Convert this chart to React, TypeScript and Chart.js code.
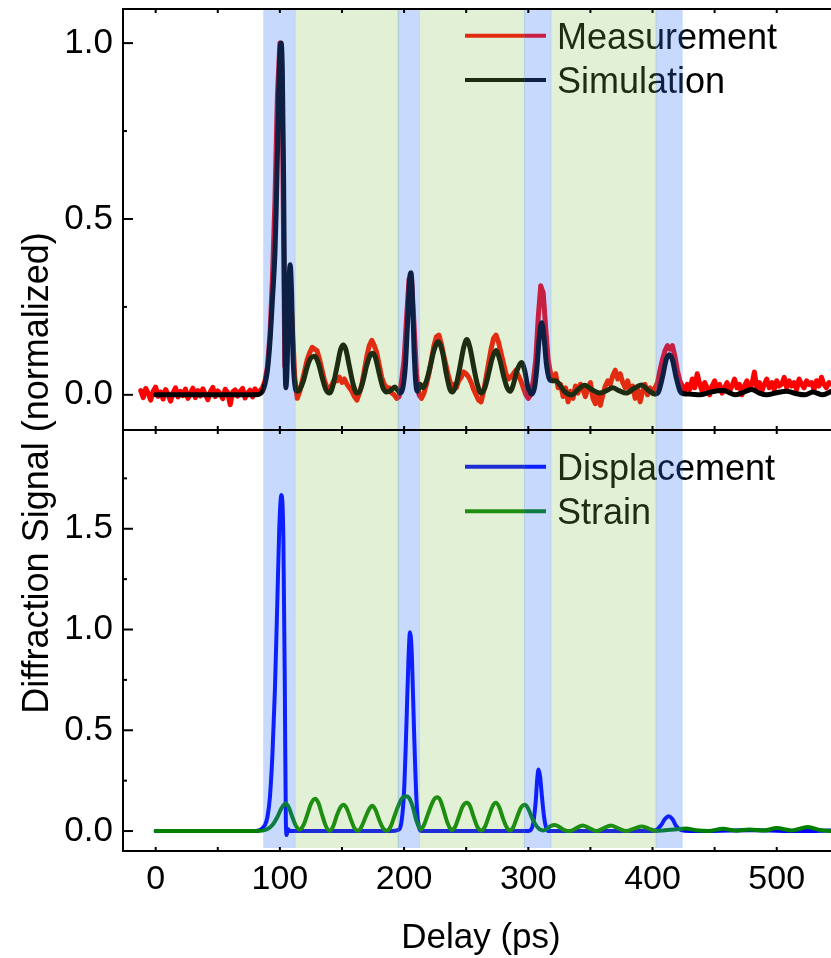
import React, { useEffect, useRef } from 'react';
import { Chart, registerables } from 'chart.js';

Chart.register(...registerables);

const FONT = '"Liberation Sans", Arial, Helvetica, sans-serif';

// ---- axes ----
const X_MIN = -26.3;
const X_MAX = 543.7;
const X_TICKS = [0, 100, 200, 300, 400, 500];
const X_MINOR_STEP = 50;
const TOP_MIN = -0.1;
const TOP_MAX = 1.097;
const TOP_TICKS = [0, 0.5, 1.0];
const BOT_MIN = -0.099;
const BOT_MAX = 1.99;
const BOT_TICKS = [0, 0.5, 1.0, 1.5];
const Y_MINOR_STEP = 0.25;

const X_TITLE = 'Delay (ps)';
const Y_TITLE = 'Diffraction Signal (normalized)';
const TOP_LABELS = ['Measurement', 'Simulation'];
const BOT_LABELS = ['Displacement', 'Strain'];

// ---- shaded delay windows (ps) ----
const BLUE_BANDS = [[86.6, 112.5], [194.8, 212.5], [296.5, 318.5], [402.5, 424.3]];
const GREEN_BANDS = [[112, 196], [212, 297.3], [318, 403.3]];

// ---- measurement (sampled every 2 ps from -12 ps) ----
const MEAS_START = -12;
const MEAS_STEP = 2;
const measY = [
  0.012, -0.008, 0.018, 0.004, -0.015, 0.010, 0.022, -0.004, 0.008, -0.012,
  0.015, 0.002, -0.018, 0.006, 0.020, -0.006, 0.010, -0.002, 0.016, -0.010,
  0.004, 0.019, -0.008, 0.012, -0.003, 0.017, 0.001, -0.014, 0.009, 0.021,
  -0.005, 0.011, 0.003, -0.011, 0.016, 0.006, -0.028, 0.008, 0.014, -0.004,
  0.010, 0.018, -0.009, 0.005, 0.013, -0.006, 0.017, 0.003, 0.012, 0.020,
  0.04, 0.08, 0.17, 0.33, 0.55, 0.85, 1.0, 0.8, 0.08, 0.15,
  0.33, 0.2, 0.05, -0.01, 0.01, 0.04, 0.07, 0.10, 0.12, 0.135,
  0.13, 0.125, 0.10, 0.07, 0.04, 0.02, 0.015, 0.03, 0.045, 0.04,
  0.05, 0.035, 0.045, 0.03, 0.02, 0.01, -0.005, -0.015, 0.005, 0.03,
  0.07, 0.11, 0.14, 0.155, 0.14, 0.12, 0.085, 0.05, 0.03, 0.02,
  0.02, 0.005, 0.0, -0.01, -0.005, 0.04, 0.10, 0.22, 0.33, 0.33,
  0.20, 0.06, 0.0, -0.01, 0.005, 0.03, 0.06, 0.10, 0.14, 0.165,
  0.17, 0.145, 0.11, 0.08, 0.05, 0.025, 0.03, 0.02, 0.04, 0.05,
  0.065, 0.06, 0.05, 0.035, 0.015, 0.0, -0.015, -0.02, 0.01, 0.05,
  0.09, 0.13, 0.16, 0.17, 0.15, 0.12, 0.09, 0.06, 0.045, 0.05,
  0.06, 0.07, 0.055, 0.04, 0.02, 0.0, -0.01, 0.0, 0.04, 0.10,
  0.22, 0.31, 0.29, 0.19, 0.10, 0.06, 0.04, 0.06, 0.02, 0.03,
  -0.005, 0.02, -0.02, 0.01, -0.01, 0.025, 0.005, 0.03, 0.015, -0.005,
  0.02, 0.035, -0.01, -0.025, 0.005, -0.03, 0.0, 0.025, 0.04, 0.03,
  0.055, 0.07, 0.045, 0.06, 0.035, 0.02, 0.04, 0.01, 0.025, -0.01,
  0.015, -0.02, 0.01, 0.03, 0.0, 0.02, 0.005, 0.02, 0.035, 0.07,
  0.10, 0.125, 0.14, 0.13, 0.14, 0.11, 0.07, 0.04, 0.025, 0.01,
  0.03, 0.015, 0.045, 0.02, 0.06, 0.03, 0.01, 0.035, 0.02, 0.0,
  0.025, 0.04, 0.015, 0.03, 0.005, 0.02, 0.035, 0.01, 0.025, 0.045,
  0.02, 0.03, 0.0, 0.025, 0.04, 0.015, 0.03, 0.065, 0.02, 0.035,
  0.01, 0.03, 0.045, 0.02, 0.035, 0.015, 0.04, 0.025, 0.03, 0.05,
  0.02, 0.04, 0.025, 0.035, 0.015, 0.045, 0.03, 0.02, 0.04, 0.03,
  0.035, 0.015, 0.04, 0.025, 0.05, 0.03, 0.02, 0.035, 0.03,
];

// ---- simulation ----
const simX = [
  0, 20, 40, 60, 80, 84, 86, 88, 90, 92, 94, 96, 97, 98, 99, 100, 101, 102, 103, 104, 104.8,
  106, 107, 108.3, 109.5, 110.5, 112, 114, 116, 119, 122, 125, 128, 131, 134, 137, 140,
  143, 146, 149, 151, 153, 156, 159, 162, 164, 167, 170, 173, 175, 177, 180, 183, 186,
  189, 192.5, 195, 197, 199, 201, 203, 204.5, 205.5, 206.5, 208, 209.5, 211, 213, 215,
  218, 221, 224, 227.5, 231, 234, 237, 239, 242, 245, 248, 250.5, 253, 256, 259, 262,
  265, 268, 271, 274, 277, 280, 283, 285.5, 288, 291, 294.5, 297, 299.5, 302.5, 305,
  307, 309, 310.8, 312.5, 314.5, 317, 319, 322, 325, 329, 335, 340, 345.5, 351, 357.5,
  363, 368, 373, 379, 385, 391, 397, 402, 405, 408, 411, 413.5, 416, 419, 422, 425,
  430, 438, 447, 457, 467, 475, 480, 486, 492, 500, 508, 515, 523, 529, 537, 544,
];
const simY = [
  0, 0, 0, 0, 0, 0.003, 0.01, 0.03, 0.07, 0.15, 0.27, 0.4, 0.52, 0.68, 0.85, 0.97, 1.0, 0.92, 0.62, 0.15, 0.02,
  0.1, 0.28, 0.37, 0.28, 0.12, 0.03, 0.01, 0.015, 0.04, 0.08, 0.105, 0.11, 0.09, 0.05, 0.015, 0.005,
  0.03, 0.08, 0.13, 0.142, 0.13, 0.08, 0.03, 0.005, 0.008, 0.04, 0.085, 0.115, 0.118, 0.105, 0.06, 0.02, 0.008,
  0.012, 0.022, 0.012, 0.005, 0.02, 0.08, 0.22, 0.33, 0.347, 0.3, 0.13, 0.03, 0.01, 0.03, 0.02,
  0.04, 0.08, 0.125, 0.151, 0.12, 0.06, 0.015, 0.008, 0.03, 0.08, 0.135, 0.157, 0.135, 0.08, 0.03, 0.005,
  0.02, 0.06, 0.105, 0.126, 0.1, 0.055, 0.02, 0.01, 0.03, 0.07, 0.092, 0.07, 0.025, 0.002, 0.02,
  0.08, 0.17, 0.205, 0.17, 0.09, 0.045, 0.04, 0.04, 0.03, 0.01, 0.0, 0.015, 0.027, 0.015, 0.005,
  0.012, 0.02, 0.012, 0.005, 0.018, 0.028, 0.012, 0.002, 0.01, 0.05, 0.1, 0.114, 0.1, 0.05, 0.012, 0.003,
  0.002, 0.0, 0.008, 0.012, 0.0, 0.01, 0.015, 0.005, 0.0, 0.006, 0.01, 0.004, 0.0, 0.008, 0.0, 0.01,
];

// ---- displacement ----
const dispX = [
  0, 40, 80, 84, 88, 90, 92, 94, 96, 98, 99.5, 101.2, 102.8, 104, 104.8, 105.5, 106.5, 108,
  150, 190, 195, 198, 200, 202, 203.5, 204.8, 206.2, 208, 210, 212, 214,
  250, 300, 302, 304, 306, 307.2, 308.2, 309.5, 311, 312.5, 314, 316,
  360, 400, 403, 407, 410, 413, 416, 419, 423, 430, 480, 520, 544,
];
const dispY = [
  0, 0, 0, 0.005, 0.03, 0.07, 0.17, 0.38, 0.7, 1.15, 1.5, 1.667, 1.45, 0.7, 0.05, -0.02, 0.01, 0,
  0, 0, 0.005, 0.05, 0.2, 0.55, 0.85, 0.987, 0.88, 0.5, 0.15, 0.02, 0,
  0, 0, 0.005, 0.04, 0.15, 0.26, 0.305, 0.27, 0.17, 0.08, 0.025, 0,
  0, 0, 0.005, 0.03, 0.06, 0.074, 0.06, 0.025, 0.005, 0, 0.004, 0, 0.003,
];

// ---- strain ----
const strainX = [
  0, 40, 80, 86, 90, 94, 98, 101, 104.6, 107, 110, 113, 116, 119, 122, 125, 128.3, 131, 134, 137,
  139.8, 143, 146, 149, 151.1, 154, 157, 160, 163, 166, 169, 172, 174.4, 177, 180, 183, 186,
  189, 192, 195, 198, 201.5, 204, 207, 210, 213.3, 216, 219, 222, 224.5, 226.7, 229, 232, 235,
  238.3, 241, 244, 247, 250.4, 253, 256, 259, 262, 265, 268, 271, 273.8, 276.5, 279.5, 282.5,
  285.3, 288, 291, 294, 297.3, 300, 303, 306, 309, 312, 315, 318, 321.5, 325, 329, 333.6, 338,
  343.8, 349, 355, 360, 366.6, 372, 379, 385, 391.3, 397, 403.4, 410, 418, 427, 435, 445,
  456.7, 467, 478, 490, 500, 512, 525, 535, 544,
];
const strainY = [
  0, 0, 0, 0.002, 0.01, 0.03, 0.07, 0.11, 0.137, 0.12, 0.07, 0.025, 0.008, 0.03, 0.08, 0.135, 0.16, 0.14, 0.08, 0.025,
  0.002, 0.025, 0.08, 0.12, 0.13, 0.11, 0.06, 0.015, 0.002, 0.025, 0.07, 0.11, 0.125, 0.105, 0.055, 0.015, 0.002,
  0.02, 0.07, 0.12, 0.16, 0.173, 0.165, 0.12, 0.05, 0.008, 0.03, 0.08, 0.13, 0.16, 0.168, 0.155, 0.1, 0.04,
  0.005, 0.02, 0.07, 0.12, 0.14, 0.125, 0.07, 0.02, 0.003, 0.02, 0.07, 0.12, 0.14, 0.12, 0.065, 0.02,
  0.003, 0.02, 0.07, 0.115, 0.13, 0.11, 0.065, 0.03, 0.01, 0.003, 0.01, 0.025, 0.03, 0.02, 0.005, 0, 0.012,
  0.028, 0.015, 0, 0.012, 0.028, 0.015, 0, 0.012, 0.023, 0.012, 0, 0.004, 0.008, 0.013, 0.004, 0,
  0.012, 0.002, 0.008, 0.003, 0.015, 0.003, 0.02, 0.005, 0,
];

const COLORS = {
  measurement: '#ff0000',
  simulation: '#000000',
  displacement: '#0000ff',
  strain: '#008000',
  blueBand: 'rgba(48,115,244,0.27)',
  greenBand: 'rgba(130,191,74,0.23)',
};

const toPts = (xs: number[], ys: number[]) => xs.map((x, i) => ({ x, y: ys[i] }));

const decorPlugin = {
  id: 'decor',
  afterDatasetsDraw(chart: any) {
    const ctx = chart.ctx as CanvasRenderingContext2D;
    const xs = chart.scales.x;
    const yT = chart.scales.yTop;
    const yB = chart.scales.yBot;
    ctx.save();
    // legends (drawn under the translucent bands)
    const legend = (items: [string, string][], ys: number[]) => {
      items.forEach(([label, color], i) => {
        ctx.strokeStyle = color;
        ctx.lineWidth = 4;
        ctx.beginPath();
        ctx.moveTo(465, ys[i]);
        ctx.lineTo(546, ys[i]);
        ctx.stroke();
        ctx.fillStyle = '#000';
        ctx.font = `36px ${FONT}`;
        ctx.textAlign = 'left';
        ctx.textBaseline = 'alphabetic';
        ctx.fillText(label, 557, ys[i] + 12.8);
      });
    };
    legend([[TOP_LABELS[0], COLORS.measurement], [TOP_LABELS[1], COLORS.simulation]], [35.7, 80]);
    legend([[BOT_LABELS[0], COLORS.displacement], [BOT_LABELS[1], COLORS.strain]], [466.7, 511.2]);
    // bands
    const top = yT.top;
    const bottom = yB.bottom - 3;
    const band = (ranges: number[][], color: string) => {
      ctx.fillStyle = color;
      ranges.forEach(([a, b]) => {
        const xa = xs.getPixelForValue(a);
        const xb = xs.getPixelForValue(b);
        ctx.fillRect(xa, top, xb - xa, bottom - top);
      });
    };
    band(GREEN_BANDS, COLORS.greenBand);
    band(BLUE_BANDS, COLORS.blueBand);
    ctx.restore();
  },
  afterDraw(chart: any) {
    const ctx = chart.ctx as CanvasRenderingContext2D;
    const xs = chart.scales.x;
    const yT = chart.scales.yTop;
    const yB = chart.scales.yBot;
    const L = chart.chartArea.left;
    const R = chart.chartArea.right;
    const T = yT.top;
    const S = yT.bottom;
    const B = yB.bottom;
    ctx.save();
    ctx.strokeStyle = '#000';
    ctx.lineWidth = 2;
    const line = (x1: number, y1: number, x2: number, y2: number) => {
      ctx.beginPath();
      ctx.moveTo(x1, y1);
      ctx.lineTo(x2, y2);
      ctx.stroke();
    };
    // frame
    line(L, T, R, T);
    line(L, S, R, S);
    line(L, B, R, B);
    line(L, T - 1, L, B + 1);
    // y ticks (inward)
    const yTicks = (scale: any, min: number, max: number) => {
      for (let k = Math.ceil(min / Y_MINOR_STEP); k * Y_MINOR_STEP <= max; k++) {
        const v = k * Y_MINOR_STEP;
        const py = scale.getPixelForValue(v);
        const major = k % 2 === 0;
        line(L, py, L + (major ? 10 : 4), py);
      }
    };
    yTicks(yT, TOP_MIN, TOP_MAX);
    yTicks(yB, BOT_MIN, BOT_MAX);
    // x ticks
    for (let v = 0; v <= X_TICKS[X_TICKS.length - 1]; v += X_MINOR_STEP) {
      const px = xs.getPixelForValue(v);
      line(px, B, px, B - 4);
      line(px, T, px, T + 4);
      line(px, S - 4, px, S + 4);
    }
    // titles
    ctx.fillStyle = '#000';
    ctx.font = `35px ${FONT}`;
    ctx.textAlign = 'center';
    ctx.textBaseline = 'alphabetic';
    ctx.fillText(X_TITLE, 481, 948);
    ctx.translate(47.5, 473);
    ctx.rotate(-Math.PI / 2);
    ctx.font = `36px ${FONT}`;
    ctx.fillText(Y_TITLE, 0, 0);
    ctx.restore();
  },
};

export default function App() {
  const ref = useRef<HTMLCanvasElement | null>(null);
  useEffect(() => {
    if (!ref.current) return;
    const measX = measY.map((_, i) => MEAS_START + i * MEAS_STEP);
    const lineBase = { pointRadius: 0, fill: false, borderJoinStyle: 'round' as const, borderCapStyle: 'round' as const };
    const chart = new Chart(ref.current, {
      type: 'line',
      data: {
        datasets: [
          { ...lineBase, label: TOP_LABELS[1], data: toPts(simX, simY), yAxisID: 'yTop', borderColor: COLORS.simulation, borderWidth: 5, cubicInterpolationMode: 'monotone', order: 1 },
          { ...lineBase, label: TOP_LABELS[0], data: toPts(measX, measY), yAxisID: 'yTop', borderColor: COLORS.measurement, borderWidth: 5, tension: 0, order: 2 },
          { ...lineBase, label: BOT_LABELS[1], data: toPts(strainX, strainY), yAxisID: 'yBot', borderColor: COLORS.strain, borderWidth: 4, cubicInterpolationMode: 'monotone', order: 1 },
          { ...lineBase, label: BOT_LABELS[0], data: toPts(dispX, dispY), yAxisID: 'yBot', borderColor: COLORS.displacement, borderWidth: 4, cubicInterpolationMode: 'monotone', order: 2 },
        ] as any,
      },
      options: {
        responsive: false,
        animation: false,
        events: [],
        layout: { padding: { top: 9, left: 0, right: 0, bottom: 0 } },
        plugins: { legend: { display: false }, tooltip: { enabled: false } },
        scales: {
          x: {
            type: 'linear',
            position: 'bottom',
            min: X_MIN,
            max: X_MAX,
            grid: { display: false, drawTicks: false },
            border: { display: false },
            ticks: { color: '#000', font: { family: FONT, size: 34 }, padding: 8, maxRotation: 0, autoSkip: false, callback: (v: any) => String(v) },
            afterBuildTicks: (s: any) => { s.ticks = X_TICKS.map((value) => ({ value })); },
            afterFit: (s: any) => { s.height = 107; s.paddingLeft = 0; s.paddingRight = 0; },
          },
          yTop: {
            type: 'linear',
            position: 'left',
            stack: 'panels',
            stackWeight: 1,
            weight: 2,
            min: TOP_MIN,
            max: TOP_MAX,
            grid: { display: false, drawTicks: false },
            border: { display: false },
            ticks: { color: '#000', font: { family: FONT, size: 35 }, padding: 10, autoSkip: false, callback: (v: any) => Number(v).toFixed(1) },
            afterBuildTicks: (s: any) => { s.ticks = TOP_TICKS.map((value) => ({ value })); },
            afterFit: (s: any) => { s.width = 123; s.paddingTop = 0; s.paddingBottom = 0; },
          },
          yBot: {
            type: 'linear',
            position: 'left',
            stack: 'panels',
            stackWeight: 1,
            weight: 1,
            min: BOT_MIN,
            max: BOT_MAX,
            grid: { display: false, drawTicks: false },
            border: { display: false },
            ticks: { color: '#000', font: { family: FONT, size: 35 }, padding: 10, autoSkip: false, callback: (v: any) => Number(v).toFixed(1) },
            afterBuildTicks: (s: any) => { s.ticks = BOT_TICKS.map((value) => ({ value })); },
            afterFit: (s: any) => { s.width = 123; s.paddingTop = 0; s.paddingBottom = 0; },
          },
        } as any,
      },
      plugins: [decorPlugin],
    });
    return () => chart.destroy();
  }, []);
  return (
    <div style={{ position: 'absolute', left: 0, top: 0, width: 831, height: 958, background: '#fff' }}>
      <canvas ref={ref} width={831} height={958} style={{ display: 'block', width: 831, height: 958 }} />
    </div>
  );
}
